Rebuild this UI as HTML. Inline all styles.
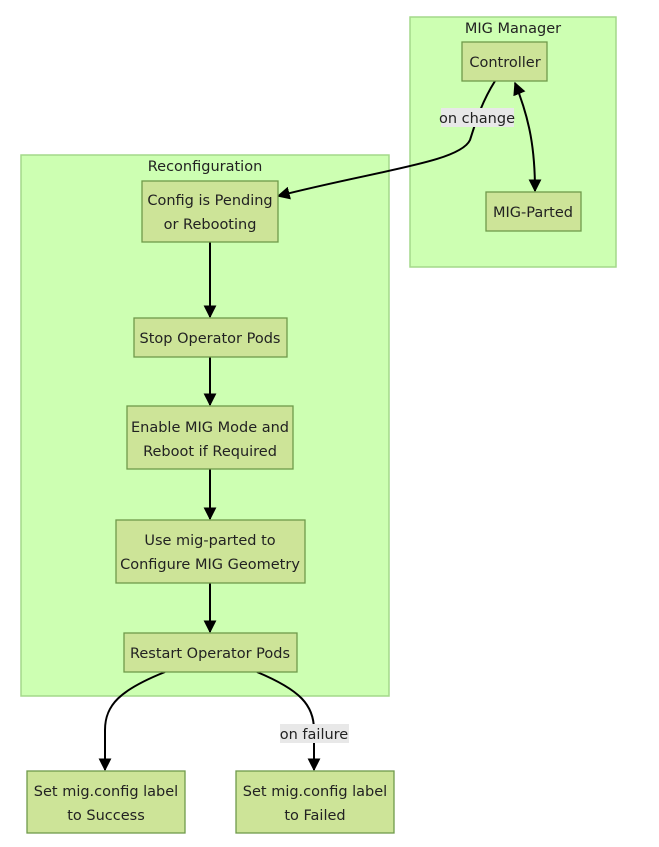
<!DOCTYPE html>
<html><head><meta charset="utf-8"><style>
html,body{margin:0;padding:0;background:#fff;}
text{font-family:"DejaVu Sans","Liberation Sans",sans-serif;font-size:14.5px;fill:#222;}
</style></head><body>
<svg width="659" height="842" viewBox="0 0 659 842" xmlns="http://www.w3.org/2000/svg">
<defs>
<marker id="a" viewBox="0 0 10 10" refX="9" refY="5" markerWidth="7" markerHeight="7" orient="auto-start-reverse" markerUnits="userSpaceOnUse">
<path d="M0,0 L10,5 L0,10 z" fill="#000"/></marker>
<marker id="b" viewBox="0 0 10 10" refX="9" refY="5" markerWidth="13" markerHeight="13" orient="auto-start-reverse" markerUnits="userSpaceOnUse">
<path d="M0,0 L10,5 L0,10 z" fill="#000"/></marker>
</defs>
<g fill="#cdffb2" stroke="#a4d98a" stroke-width="1.5">
<rect x="410" y="17" width="206" height="250"/>
<rect x="21" y="155" width="368" height="541"/>
</g>
<text x="513" y="33" text-anchor="middle">MIG Manager</text>
<text x="205" y="171" text-anchor="middle">Reconfiguration</text>
<g fill="none" stroke="#000" stroke-width="2">
<path d="M495,81 C480,105 475,125 470,140 C460,162 380,170 278,196" marker-end="url(#b)"/>
<path d="M515,83 C530,120 535,150 535,191" marker-end="url(#b)" marker-start="url(#b)"/>
<path d="M210,242 L210,317" marker-end="url(#b)"/>
<path d="M210,357 L210,405" marker-end="url(#b)"/>
<path d="M210,469 L210,519" marker-end="url(#b)"/>
<path d="M210,583 L210,632" marker-end="url(#b)"/>
<path d="M165,672 C120,690 105,705 105,730 L105,770" marker-end="url(#b)"/>
<path d="M257,672 C300,690 314,705 314,730 L314,770" marker-end="url(#b)"/>
</g>
<rect x="441" y="108" width="73" height="19" fill="#e8e8e8"/>
<text x="477" y="123" text-anchor="middle">on change</text>
<rect x="280" y="724" width="69" height="19" fill="#e8e8e8"/>
<text x="314" y="739" text-anchor="middle">on failure</text>
<g fill="#cde498" stroke="#6f9a4b" stroke-width="1.3">
<rect x="462" y="42" width="85" height="39"/>
<rect x="486" y="192" width="95" height="39"/>
<rect x="142" y="181" width="136" height="61"/>
<rect x="134" y="318" width="153" height="39"/>
<rect x="127" y="406" width="166" height="63"/>
<rect x="116" y="520" width="189" height="63"/>
<rect x="124" y="633" width="173" height="39"/>
<rect x="27" y="771" width="158" height="62"/>
<rect x="236" y="771" width="158" height="62"/>
</g>
<g text-anchor="middle">
<text x="505" y="67">Controller</text>
<text x="533" y="217">MIG-Parted</text>
<text x="210" y="205">Config is Pending</text>
<text x="210" y="229">or Rebooting</text>
<text x="210" y="343">Stop Operator Pods</text>
<text x="210" y="432">Enable MIG Mode and</text>
<text x="210" y="456">Reboot if Required</text>
<text x="210" y="545">Use mig-parted to</text>
<text x="210" y="569">Configure MIG Geometry</text>
<text x="210" y="658">Restart Operator Pods</text>
<text x="106" y="796">Set mig.config label</text>
<text x="106" y="820">to Success</text>
<text x="315" y="796">Set mig.config label</text>
<text x="315" y="820">to Failed</text>
</g>
</svg>
</body></html>
